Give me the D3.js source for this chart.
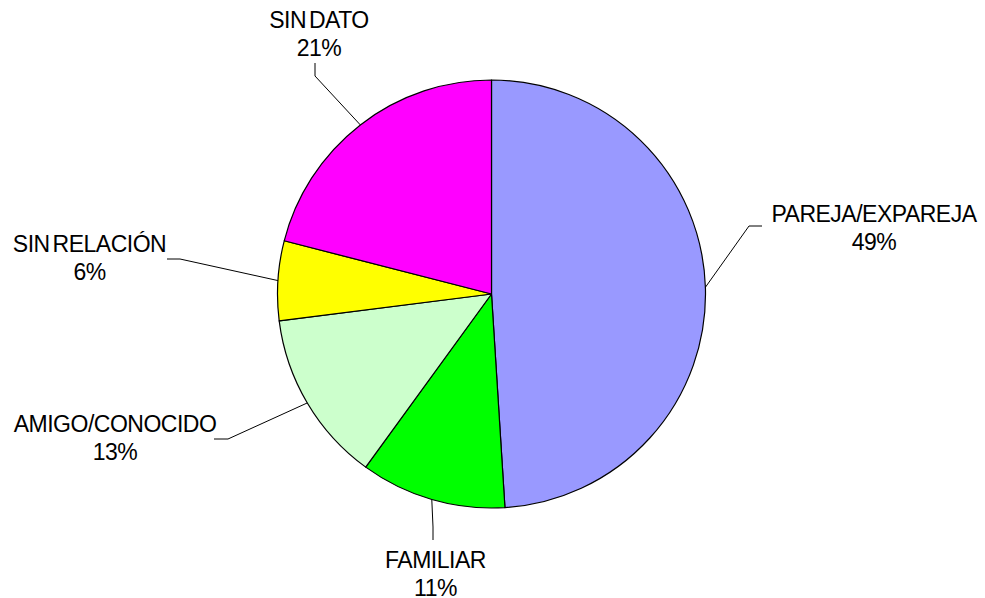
<!DOCTYPE html>
<html><head><meta charset="utf-8">
<script src="https://cdn.jsdelivr.net/npm/d3@7"></script>
<style>body{margin:0;background:#fff}</style>
</head><body><svg id="chart" width="985" height="598"></svg>
<script>
const categories = ["PAREJA/EXPAREJA", "FAMILIAR", "AMIGO/CONOCIDO", "SIN RELACIÓN", "SIN DATO"];
const shares = [49, 11, 13, 6, 21];
const colors = ["#9999FF", "#00FF00", "#CCFFCC", "#FFFF00", "#FF00FF"];

// Label placement: text centre/baseline, leader elbow and leader end next to the text
const labelLayout = [
  {x: 874, y: 221.5, elbow: [749, 226], end: [762, 226]},
  {x: 435.5, y: 567.5, elbow: [433, 527], end: [433, 540]},
  {x: 115, y: 432, elbow: [228, 439], end: [214, 439]},
  {x: 89.5, y: 252, elbow: [180, 259], end: [167, 259]},
  {x: 319, y: 27.5, elbow: [315, 76], end: [315, 63]}
];

const cx = 491.5, cy = 294, r = 214;
const svg = d3.select("#chart");
const g = svg.append("g").attr("transform", `translate(${cx},${cy})`);

const pie = d3.pie().sort(null).value(d => d);
const arcs = pie(shares);
const arc = d3.arc().innerRadius(0).outerRadius(r);

g.selectAll("path.slice").data(arcs).join("path")
  .attr("class", "slice")
  .attr("d", arc)
  .attr("fill", (d, i) => colors[i])
  .attr("stroke", "#000")
  .attr("stroke-width", 1.2)
  .attr("stroke-linejoin", "round");

// leader lines from the rim at each slice's mid-angle
const line = d3.line();
svg.selectAll("path.leader").data(arcs).join("path")
  .attr("class", "leader")
  .attr("fill", "none")
  .attr("stroke", "#000")
  .attr("stroke-width", 1)
  .attr("d", (d, i) => {
    const a = (d.startAngle + d.endAngle) / 2;
    const p0 = [cx + r * Math.sin(a), cy - r * Math.cos(a)];
    const L = labelLayout[i];
    return line([p0, L.elbow, L.end]);
  });

const labels = svg.selectAll("text.lbl").data(arcs).join("text")
  .attr("class", "lbl")
  .attr("text-anchor", "middle")
  .attr("font-family", "Arial, 'Liberation Sans', sans-serif")
  .attr("font-size", 23)
  .attr("letter-spacing", "-0.5px")
  .attr("word-spacing", "-3px")
  .attr("fill", "#000");

labels.append("tspan")
  .attr("x", (d, i) => labelLayout[i].x)
  .attr("y", (d, i) => labelLayout[i].y)
  .text((d, i) => categories[i]);
labels.append("tspan")
  .attr("x", (d, i) => labelLayout[i].x)
  .attr("y", (d, i) => labelLayout[i].y + 28)
  .text((d, i) => shares[i] + "%");
</script></body></html>
